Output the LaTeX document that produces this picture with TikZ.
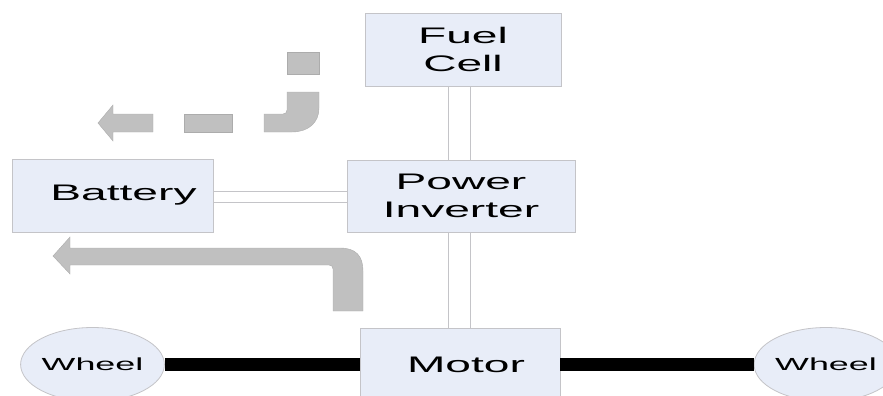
\documentclass[tikz,border=0pt]{standalone}
\usepackage{fontspec}
\setmainfont[FakeStretch=2.05]{Liberation Sans}
\usetikzlibrary{shapes.geometric,positioning,calc}
\definecolor{BoxFill}{RGB}{232,237,248}
\definecolor{BoxLine}{RGB}{196,196,200}
\definecolor{FlowGray}{RGB}{192,192,192}
\definecolor{FlowEdge}{RGB}{172,172,172}

\begin{document}
\begin{tikzpicture}[x=1pt, y=-1pt,
  block/.style={draw=BoxLine, fill=BoxFill, line width=0.8pt, inner sep=0pt,
    align=center, font=\fontsize{22.5}{28}\selectfont},
  wheelnode/.style={ellipse, draw=BoxLine, fill=BoxFill, line width=0.8pt,
    minimum width=132pt, minimum height=74pt, inner sep=0pt,
    font=\fontsize{17.5}{22}\selectfont},
  link/.style={draw=BoxLine, line width=0.8pt},
  shaft/.style={line width=13pt},
  flow/.style={fill=FlowGray, draw=FlowEdge, line width=0.4pt}]
  \useasboundingbox (0,0) rectangle (883,396);
  \clip (0,0) rectangle (883,396);

  % Blocks
  \node[block, minimum width=196pt, minimum height=73pt] (fc) at (463,49.5) {Fuel\\Cell};
  \node[block, minimum width=228pt, minimum height=72pt] (pi) at (461,196) {Power\\Inverter};
  \node[block, minimum width=201pt, minimum height=73pt] (bat) at (112.5,195.5) {\hspace*{22pt}Battery};
  \node[block, minimum width=200pt, minimum height=73pt] (motor) at (460,364.5) {\hspace*{12pt}Motor};
  \node[wheelnode] (wheelL) at (92.5,364.5) {Wheel};
  \node[wheelnode] (wheelR) at (826,364.5) {Wheel};

  % Electrical links (double lines)
  \draw[link] ([xshift=-13pt]pi.north |- fc.south) -- ([xshift=-13pt]pi.north);
  \draw[link] ([xshift=9pt]pi.north |- fc.south) -- ([xshift=9pt]pi.north);
  \draw[link] ([xshift=-13pt]pi.south) -- ([xshift=-13pt]pi.south |- motor.north);
  \draw[link] ([xshift=9pt]pi.south) -- ([xshift=9pt]pi.south |- motor.north);
  \draw[link] ([yshift=4.5pt]bat.east) -- ([yshift=4.5pt]bat.east -| pi.west);
  \draw[link] ([yshift=-6.5pt]bat.east) -- ([yshift=-6.5pt]bat.east -| pi.west);

  % Mechanical shafts
  \draw[shaft] (wheelL.east) -- (motor.west);
  \draw[shaft] (motor.east) -- (wheelR.west);

  % Dashed flow arrow (top)
  \filldraw[flow] (287,52) rectangle (319,74);
  \filldraw[flow] (287,92) -- (319,92) -- (319,108)
    .. controls (319,123) and (308,132) .. (292,132) -- (264,132) -- (264,114)
    -- (283,114) .. controls (285.5,114) and (287,112.5) .. (287,110) -- cycle;
  \filldraw[flow] (184,114) rectangle (232,132);
  \filldraw[flow] (153,114) -- (113,114) -- (113,105) -- (98,123) -- (113,141)
    -- (113,132) -- (153,132) -- cycle;

  % Solid flow arrow (bottom)
  \filldraw[flow] (363,311) -- (363,271)
    .. controls (363,256) and (356,248) .. (340,248) -- (70,248) -- (70,237)
    -- (53,256) -- (70,274) -- (70,265) -- (329,265)
    .. controls (331.5,265) and (333,266.5) .. (333,269) -- (333,311) -- cycle;
\end{tikzpicture}
\end{document}
